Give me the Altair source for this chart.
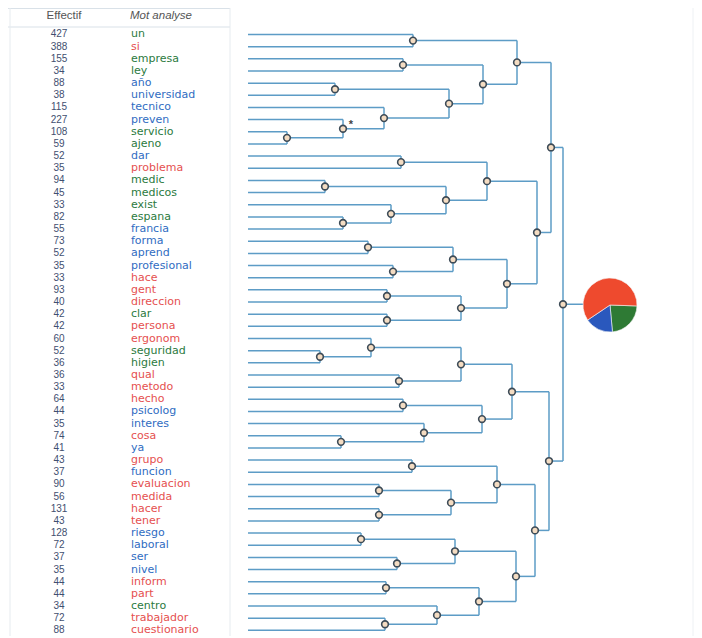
import math
import altair as alt
import pandas as pd

# ---------------- data ----------------
words = ["un", "si", "empresa", "ley", "año", "universidad", "tecnico", "preven", "servicio", "ajeno",
         "dar", "problema", "medic", "medicos", "exist", "espana", "francia", "forma", "aprend", "profesional",
         "hace", "gent", "direccion", "clar", "persona", "ergonom", "seguridad", "higien", "qual", "metodo",
         "hecho", "psicolog", "interes", "cosa", "ya", "grupo", "funcion", "evaluacion", "medida", "hacer",
         "tener", "riesgo", "laboral", "ser", "nivel", "inform", "part", "centro", "trabajador", "cuestionario"]
effectif = [427, 388, 155, 34, 88, 38, 115, 227, 108, 59,
            52, 35, 94, 45, 33, 82, 55, 73, 52, 35,
            33, 93, 40, 42, 42, 60, 52, 36, 36, 33,
            64, 44, 35, 74, 41, 43, 37, 90, 56, 131,
            43, 128, 72, 37, 35, 44, 44, 34, 72, 88]
classes = ["g", "r", "g", "g", "b", "b", "b", "b", "g", "g",
           "b", "r", "g", "g", "g", "g", "b", "b", "b", "b",
           "r", "r", "r", "g", "r", "r", "g", "g", "r", "r",
           "r", "b", "b", "r", "b", "r", "b", "r", "r", "r",
           "r", "b", "b", "b", "b", "r", "r", "g", "r", "r"]

# merges: (node, child a, child b, height)
merges = [
    ("A", "un", "si", 165), ("B", "empresa", "ley", 155), ("C", "año", "universidad", 87),
    ("E", "servicio", "ajeno", 39), ("D", "preven", "E", 95), ("F", "tecnico", "D", 136),
    ("G", "C", "F", 201), ("H", "B", "G", 235), ("I", "A", "H", 269),
    ("L", "dar", "problema", 153), ("M", "medic", "medicos", 77), ("P", "espana", "francia", 95),
    ("O", "exist", "P", 143), ("N", "M", "O", 198), ("Q", "L", "N", 239),
    ("S", "forma", "aprend", 120), ("T", "profesional", "hace", 145), ("U", "S", "T", 205),
    ("V", "gent", "direccion", 139), ("W", "clar", "persona", 139), ("X", "V", "W", 213),
    ("R", "U", "X", 259), ("K", "Q", "R", 289), ("J", "I", "K", 303),
    ("Z", "seguridad", "higien", 72), ("Y", "ergonom", "Z", 123), ("AA", "qual", "metodo", 151),
    ("AB", "Y", "AA", 213), ("AC", "hecho", "psicolog", 155), ("AE", "cosa", "ya", 93),
    ("AD", "interes", "AE", 176), ("AF", "AC", "AD", 234), ("AG", "AB", "AF", 264),
    ("AJ", "grupo", "funcion", 164), ("AK", "evaluacion", "medida", 131), ("AL", "hacer", "tener", 131),
    ("AM", "AK", "AL", 203), ("AN", "AJ", "AM", 249), ("AO", "riesgo", "laboral", 113),
    ("AP", "ser", "nivel", 149), ("AQ", "AO", "AP", 207), ("AR", "inform", "part", 138),
    ("AT", "trabajador", "cuestionario", 137), ("AS", "centro", "AT", 189), ("AU", "AR", "AS", 231),
    ("AV", "AQ", "AU", 268), ("AI", "AN", "AV", 287), ("AH", "AG", "AI", 301),
    ("ROOT", "J", "AH", 315),
]

pie_cls = ["pg", "pb", "pr"]
pie_val = [23, 17, 60]

# ---------------- build tables ----------------
pos = {w: (0.0, i + 1) for i, w in enumerate(words)}
hseg, vseg, nodes = [], [], []
for name, a, b, h in merges:
    ha, ya = pos[a]
    hb, yb = pos[b]
    hseg.append({"x": ha, "x2": h, "y": ya})
    hseg.append({"x": hb, "x2": h, "y": yb})
    vseg.append({"x": h, "y": ya, "y2": yb})
    ym = (ya + yb) / 2
    pos[name] = (h, ym)
    nodes.append({"x": h, "y": ym})
rh, ry = pos["ROOT"]
hseg.append({"x": rh, "x2": rh + 22, "y": ry})

hdf = pd.DataFrame(hseg)
vdf = pd.DataFrame(vseg)
ndf = pd.DataFrame(nodes)
star = pd.DataFrame([{"x": pos["D"][0], "y": pos["D"][1], "t": "*"}])
tab = pd.DataFrame({"row": list(range(1, len(words) + 1)), "word": words,
                    "eff": [str(e) for e in effectif], "cls": classes})
pie = pd.DataFrame({"cls": pie_cls, "val": pie_val, "ord": [1, 2, 3]})

W, H = 686, 628
xs = alt.Scale(domain=[-240, 446], nice=False, zero=False)
ys = alt.Scale(domain=[-1.179, 50.465], nice=False, zero=False, reverse=True)
line_col = "#5d9cc6"

hl = alt.Chart(hdf).mark_rule(color=line_col, strokeWidth=1.5).encode(
    x=alt.X("x:Q", scale=xs, axis=None), x2="x2:Q",
    y=alt.Y("y:Q", scale=ys, axis=None))
vl = alt.Chart(vdf).mark_rule(color=line_col, strokeWidth=1.5).encode(
    x=alt.X("x:Q", scale=xs, axis=None),
    y=alt.Y("y:Q", scale=ys, axis=None), y2="y2:Q")
pts = alt.Chart(ndf).mark_point(shape="circle", filled=True, size=45, fill="#f4dcc2",
                                stroke="#3d4b57", strokeWidth=1.6, opacity=1).encode(
    x=alt.X("x:Q", scale=xs, axis=None), y=alt.Y("y:Q", scale=ys, axis=None))
st = alt.Chart(star).mark_text(dx=8, dy=-4, fontSize=11, fontWeight="bold", color="#444").encode(
    x=alt.X("x:Q", scale=xs, axis=None), y=alt.Y("y:Q", scale=ys, axis=None), text="t:N")

word_colors = alt.Scale(domain=["r", "b", "g"], range=["#e5504f", "#2f6cc2", "#2b7a40"])
nums = alt.Chart(tab).mark_text(align="center", baseline="middle", fontSize=10,
                                font="Liberation Sans", color="#3f4f70").encode(
    x=alt.value(51), y=alt.Y("row:Q", scale=ys, axis=None), text="eff:N")
wtxt = alt.Chart(tab).mark_text(align="left", baseline="middle", fontSize=11,
                                font="DejaVu Sans").encode(
    x=alt.value(123), y=alt.Y("row:Q", scale=ys, axis=None), text="word:N",
    color=alt.Color("cls:N", scale=word_colors, legend=None))

h1 = alt.Chart(pd.DataFrame({"t": ["Effectif"]})).mark_text(
    align="center", baseline="middle", fontSize=11.5, font="Liberation Sans", color="#555").encode(
    x=alt.value(56), y=alt.value(8), text="t:N")
h2 = alt.Chart(pd.DataFrame({"t": ["Mot analyse"]})).mark_text(
    align="left", baseline="middle", fontSize=11.5, font="Liberation Sans", fontStyle="italic",
    color="#555").encode(x=alt.value(122), y=alt.value(8), text="t:N")

border_col = "#d9e1e8"
b1 = alt.Chart(pd.DataFrame({"a": [0]})).mark_rule(color=border_col, strokeWidth=1).encode(
    x=alt.value(0), x2=alt.value(222), y=alt.value(0.5))
b2 = alt.Chart(pd.DataFrame({"a": [0]})).mark_rule(color=border_col, strokeWidth=1).encode(
    x=alt.value(0), x2=alt.value(222), y=alt.value(19))
b3 = alt.Chart(pd.DataFrame({"a": [0]})).mark_rule(color="#e6ebef", strokeWidth=1).encode(
    x=alt.value(2), y=alt.value(0), y2=alt.value(H))
b4 = alt.Chart(pd.DataFrame({"a": [0]})).mark_rule(color="#e6ebef", strokeWidth=1).encode(
    x=alt.value(222), y=alt.value(0), y2=alt.value(H))
b5 = alt.Chart(pd.DataFrame({"a": [0]})).mark_rule(color="#eef1f4", strokeWidth=1).encode(
    x=alt.value(685), y=alt.value(0), y2=alt.value(H))

start = 1.606
pie_ch = alt.Chart(pie).mark_arc(outerRadius=27, stroke="#f5f5f5", strokeWidth=0.6).encode(
    theta=alt.Theta("val:Q", stack=True, scale=alt.Scale(range=[start, start + 2 * math.pi])),
    color=alt.Color("cls:N", scale=alt.Scale(domain=["pr", "pb", "pg"],
                                             range=["#ee4a2e", "#2a58bd", "#2e7a34"]), legend=None),
    order=alt.Order("ord:Q"),
    x=alt.value(602), y=alt.value(297))

chart = alt.layer(b1, b2, b3, b4, b5, hl, vl, pts, st, nums, wtxt, h1, h2, pie_ch).resolve_scale(
    color="independent").properties(
    width=W, height=H, padding=0, autosize=alt.AutoSizeParams(type="none")
).configure_view(stroke=None)

chart.save("out.html", embed_options={"renderer": "svg", "actions": False})
